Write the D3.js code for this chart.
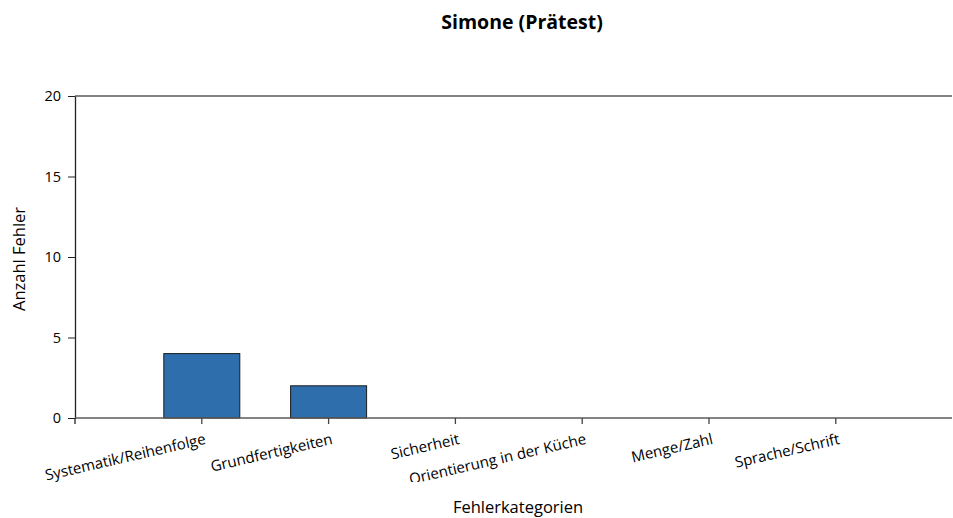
<!DOCTYPE html>
<html><head><meta charset="utf-8">
<script src="https://cdn.jsdelivr.net/npm/d3@7"></script>
<style>body{margin:0;background:#fff}svg{display:block}text{font-family:"Open Sans",sans-serif;fill:#000}</style>
</head><body>
<svg id="c" width="953" height="518"></svg>
<script>
const categories = ["Systematik/Reihenfolge","Grundfertigkeiten","Sicherheit","Orientierung in der Küche","Menge/Zahl","Sprache/Schrift"];
const values = [4,2,0,0,0,0];
const yTicks = [0,5,10,15,20];
const title = "Simone (Prätest)";
const xTitle = "Fehlerkategorien";
const yTitle = "Anzahl Fehler";

const svg = d3.select("#c");
const L=75, R=952, T=96, B=418;
const x = d3.scaleLinear().domain([0, categories.length+1]).range([L, L+7*126.8]);
const y = d3.scaleLinear().domain([0,20]).range([B,T]);
const bw = 76;

svg.append("defs").append("clipPath").attr("id","lc").append("rect")
  .attr("x",0).attr("y",B).attr("width",953).attr("height",482-B);

// bars
svg.append("g").selectAll("rect").data(values).join("rect")
  .attr("x",(d,i)=>x(i+1)-bw/2).attr("width",bw)
  .attr("y",d=>y(d)).attr("height",d=>B-y(d))
  .attr("fill","#2E6EAD").attr("stroke","#1b1b1b").attr("stroke-width",1)
  .style("display",d=>d>0?null:"none");

// top border
svg.append("line").attr("x1",L).attr("x2",R).attr("y1",T).attr("y2",T)
  .attr("stroke","#5a5a5a").attr("stroke-width",1.5);

// y axis
const ya = svg.append("g").attr("transform",`translate(${L},0)`)
  .call(d3.axisLeft(y).tickValues(yTicks).tickSize(7).tickPadding(7).tickSizeOuter(0));
ya.select(".domain").attr("stroke","#222").attr("stroke-width",1.3);
ya.selectAll(".tick line").attr("stroke","#222");
ya.selectAll(".tick text").attr("font-size",14.5).attr("font-family","Open Sans").attr("fill","#000");

// x axis line
svg.append("line").attr("x1",L).attr("x2",R).attr("y1",B).attr("y2",B)
  .attr("stroke","#5a5a5a").attr("stroke-width",1.5);
// extended y axis below x axis + ticks
const tickIdx = d3.range(0, categories.length+1);
svg.append("g").selectAll("line").data(tickIdx).join("line")
  .attr("x1",d=>x(d)).attr("x2",d=>x(d)).attr("y1",B).attr("y2",B+6)
  .attr("stroke",d=>d===0?"#222":"#444").attr("stroke-width",1.3);

// x labels
const lg = svg.append("g").attr("clip-path","url(#lc)");
lg.selectAll("text").data(categories).join("text")
  .attr("transform",(d,i)=>`translate(${x(i+1)+2},${B+14}) rotate(-13)`)
  .attr("text-anchor","end").attr("dy","0.8em")
  .attr("font-size",15).text(d=>d);

// titles
svg.append("text").attr("x",522).attr("y",29).attr("text-anchor","middle")
  .attr("font-size",19.5).attr("font-weight","bold").text(title);
svg.append("text").attr("x",518).attr("y",513).attr("text-anchor","middle")
  .attr("font-size",16.5).text(xTitle);
svg.append("text").attr("transform","translate(25,259) rotate(-90)").attr("text-anchor","middle")
  .attr("font-size",16.5).text(yTitle);
</script>
</body></html>
